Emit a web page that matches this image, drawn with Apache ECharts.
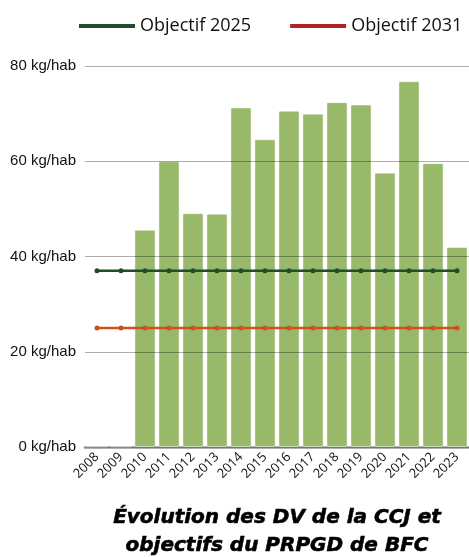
<!DOCTYPE html>
<html><head><meta charset="utf-8">
<script src="https://cdn.jsdelivr.net/npm/echarts@6/dist/echarts.min.js"></script>
<style>html,body{margin:0;padding:0;background:#fff}#c{width:469px;height:557px}</style>
</head><body><div id="c"></div>
<script>
const years = ['2008','2009','2010','2011','2012','2013','2014','2015','2016','2017','2018','2019','2020','2021','2022','2023'];
const dv = [0,0,45.6,60.0,49.1,49.0,71.3,64.6,70.6,70.0,72.4,71.9,57.6,76.8,59.6,42.0];
const obj2025 = [37,37,37,37,37,37,37,37,37,37,37,37,37,37,37,37];
const obj2031 = [25,25,25,25,25,25,25,25,25,25,25,25,25,25,25,25];
const yTicks = [0,20,40,60,80];
const chart = echarts.init(document.getElementById('c'));
chart.setOption({
  animation:false,
  title:{text:'Évolution des DV de la CCJ et\nobjectifs du PRPGD de BFC',left:272,textAlign:'center',top:499,
    textStyle:{fontFamily:'DejaVu Sans',fontWeight:'bold',fontStyle:'italic',fontSize:20,lineHeight:28,color:'#000',
      textBorderColor:'#000',textBorderWidth:0.6}},
  legend:{top:17,left:79,padding:0,itemGap:39,itemWidth:56,itemHeight:4,
    textStyle:{fontFamily:'Open Sans',fontSize:18,color:'#111'},
    data:[{name:'Objectif 2025',icon:'rect',itemStyle:{color:'#1e4d2b'}},
          {name:'Objectif 2031',icon:'rect',itemStyle:{color:'#b22222'}}]},
  grid:{left:85,right:0,top:66,bottom:110},
  xAxis:{type:'category',data:years,
    axisLine:{lineStyle:{color:'#b0b0b0',width:3}},axisTick:{show:false},
    axisLabel:{rotate:45,interval:0,margin:8,fontFamily:'Open Sans',fontSize:13,color:'#111'}},
  yAxis:{type:'value',min:0,max:80,interval:20,z:5,
    axisLine:{show:false},axisTick:{show:false},
    splitLine:{lineStyle:{color:'rgba(0,0,0,0.32)',width:1}},
    axisLabel:{formatter:v=>yTicks.includes(v)?v+' kg/hab':'',margin:9,fontFamily:'Liberation Sans',fontSize:15,color:'#111'}},
  series:[
    {name:'DV',type:'bar',data:dv,barCategoryGap:'12%',
      itemStyle:{color:'#98b969',borderColor:'rgba(255,255,255,0.45)',borderWidth:1,borderRadius:1}},
    {name:'Objectif 2025',type:'line',data:obj2025,z:6,symbol:'circle',symbolSize:5,
      lineStyle:{color:'#1e4d2b',width:2.5},itemStyle:{color:'#1e4d2b'}},
    {name:'Objectif 2031',type:'line',data:obj2031,z:6,symbol:'circle',symbolSize:5,
      lineStyle:{color:'#d0501e',width:2.5},itemStyle:{color:'#d0501e'}}
  ]
});
</script></body></html>
